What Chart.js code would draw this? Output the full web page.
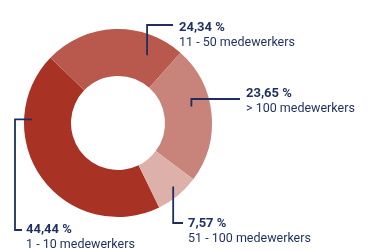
<!DOCTYPE html>
<html>
<head>
<meta charset="utf-8">
<script src="https://cdn.jsdelivr.net/npm/chart.js@4"></script>
<style>
  html, body { margin: 0; padding: 0; background: #fff; }
  #wrap { width: 370px; height: 250px; }
</style>
</head>
<body>
<div id="wrap"><canvas id="grafiek" width="370" height="250"></canvas></div>
<script>
// volgorde zoals in de ring, met de klok mee vanaf onderkant
const categorieen = ["1 - 10 medewerkers", "11 - 50 medewerkers", "> 100 medewerkers", "51 - 100 medewerkers"];
const percentages = [44.44, 24.34, 23.65, 7.57];
const kleuren = ["#a83224", "#b9584c", "#c8837a", "#ddb0aa"];

const navy = "#1e2f5e";

// plaats van de labels en leader lines, t.o.v. het midden van de ring
// hoek = fractie binnen de slice, straal = fractie binnen de ring
const labelLayout = [
  { hoek: 0.74, straal: 0.83, pad: [{ x: -103 }, { y: 107 }, { x: -96 }], tekst: { x: -92, y: 110 } },
  { hoek: 0.79, straal: 0.57, pad: [{ y: -98 }, { x: 55 }], tekst: { x: 61, y: -92 } },
  { hoek: 0.42, straal: 0.60, pad: [{ y: -24 }, { x: 122 }], tekst: { x: 128, y: -26 } },
  { hoek: 0.45, straal: 0.79, pad: [{ y: 100 }, { x: 65 }], tekst: { x: 70, y: 104 } },
];

function formatPct(v) {
  return v.toFixed(2).replace(".", ",") + " %";
}

const leaderLabels = {
  id: "leaderLabels",
  afterDatasetsDraw(chart) {
    const ctx = chart.ctx;
    const meta = chart.getDatasetMeta(0);
    meta.data.forEach((arc, i) => {
      const p = arc.getProps(["x", "y", "startAngle", "endAngle", "innerRadius", "outerRadius"], true);
      const lay = labelLayout[i];
      const a = p.startAngle + lay.hoek * (p.endAngle - p.startAngle);
      const r = p.innerRadius + lay.straal * (p.outerRadius - p.innerRadius);
      let px = p.x + r * Math.cos(a);
      let py = p.y + r * Math.sin(a);

      ctx.save();
      ctx.strokeStyle = navy;
      ctx.lineWidth = 1.8;
      ctx.beginPath();
      ctx.moveTo(px, py);
      lay.pad.forEach((s) => {
        if (s.x !== undefined) px = p.x + s.x;
        if (s.y !== undefined) py = p.y + s.y;
        ctx.lineTo(px, py);
      });
      ctx.stroke();

      const tx = p.x + lay.tekst.x;
      const ty = p.y + lay.tekst.y;
      ctx.fillStyle = navy;
      ctx.textAlign = "left";
      ctx.textBaseline = "alphabetic";
      ctx.font = "bold 13px Roboto";
      ctx.fillText(formatPct(percentages[i]), tx, ty);
      ctx.font = "12.5px Roboto";
      ctx.fillText(categorieen[i], tx, ty + 15);
      ctx.restore();
    });
  },
};

new Chart(document.getElementById("grafiek"), {
  type: "doughnut",
  data: {
    labels: categorieen,
    datasets: [
      {
        data: percentages,
        backgroundColor: kleuren,
        borderWidth: 0,
        hoverOffset: 0,
      },
    ],
  },
  options: {
    responsive: false,
    animation: false,
    rotation: 154,
    cutout: "50%",
    layout: {
      padding: { left: 24, right: 158, top: 29, bottom: 33 },
    },
    plugins: {
      legend: { display: false },
      tooltip: { enabled: false },
    },
  },
  plugins: [leaderLabels],
});
</script>
</body>
</html>
